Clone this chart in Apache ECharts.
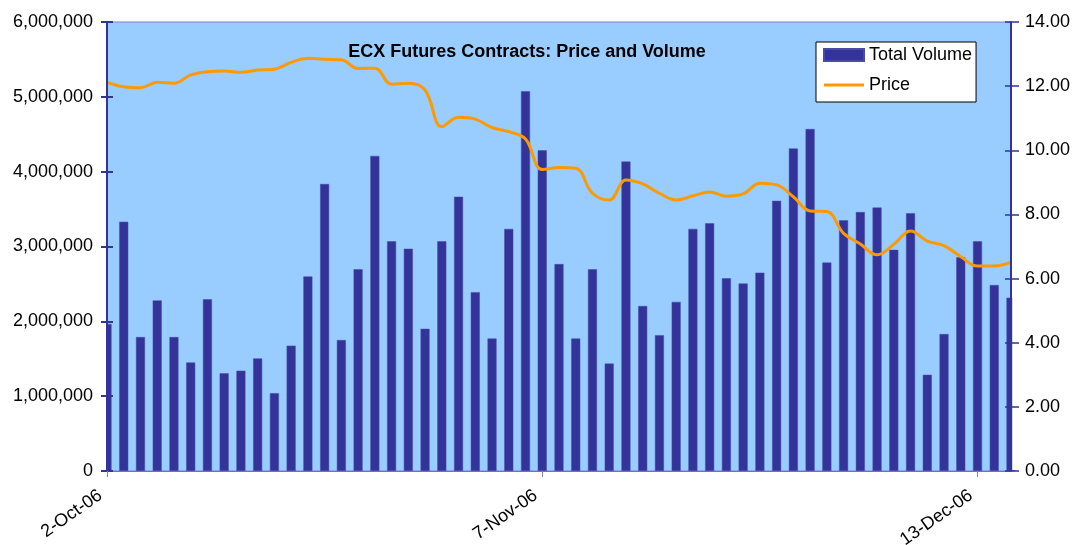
<!DOCTYPE html>
<html>
<head>
<meta charset="utf-8">
<script src="https://cdn.jsdelivr.net/npm/echarts@6/dist/echarts.min.js"></script>
<style>
html,body{margin:0;padding:0;background:#fff;}
#chart{width:1075px;height:545px;}
</style>
</head>
<body>
<div id="chart"></div>
<script>
var dates = [
  "2-Oct-06","3-Oct-06","4-Oct-06","5-Oct-06","6-Oct-06",
  "9-Oct-06","10-Oct-06","11-Oct-06","12-Oct-06","13-Oct-06",
  "16-Oct-06","17-Oct-06","18-Oct-06","19-Oct-06","20-Oct-06",
  "23-Oct-06","24-Oct-06","25-Oct-06","26-Oct-06","27-Oct-06",
  "30-Oct-06","31-Oct-06","1-Nov-06","2-Nov-06","3-Nov-06",
  "6-Nov-06","7-Nov-06","8-Nov-06","9-Nov-06","10-Nov-06",
  "13-Nov-06","14-Nov-06","15-Nov-06","16-Nov-06","17-Nov-06",
  "20-Nov-06","21-Nov-06","22-Nov-06","23-Nov-06","24-Nov-06",
  "27-Nov-06","28-Nov-06","29-Nov-06","30-Nov-06","1-Dec-06",
  "4-Dec-06","5-Dec-06","6-Dec-06","7-Dec-06","8-Dec-06",
  "11-Dec-06","12-Dec-06","13-Dec-06","14-Dec-06","15-Dec-06"
];
var totalVolume = [
  1965000,3330000,1790000,2280000,1790000,1450000,2295000,1305000,1340000,1505000,
  1040000,1675000,2600000,3835000,1750000,2695000,4210000,3070000,2970000,1900000,
  3070000,3665000,2390000,1770000,3235000,5075000,4285000,2765000,1770000,2695000,
  1435000,4135000,2205000,1815000,2260000,3235000,3310000,2575000,2505000,2650000,
  3610000,4310000,4570000,2785000,3350000,3460000,3520000,2955000,3445000,1285000,
  1830000,2855000,3070000,2485000,2315000
];
var price = [
  12.12,11.98,11.95,12.12,12.09,12.35,12.45,12.47,12.43,12.50,
  12.53,12.74,12.87,12.84,12.82,12.55,12.56,12.06,12.09,11.88,
  10.74,11.03,10.97,10.71,10.58,10.35,9.40,9.46,9.44,8.66,
  8.45,9.07,8.95,8.66,8.45,8.58,8.70,8.57,8.64,8.97,
  8.92,8.55,8.11,8.09,7.41,7.08,6.74,7.07,7.48,7.17,
  7.03,6.68,6.39,6.39,6.51
];
var volumeTicks = {min: 0, max: 6000000, interval: 1000000};
var priceTicks = {min: 0, max: 14, interval: 2};

var FONT = 'Liberation Sans, Arial, sans-serif';
var AXIS_BLUE = '#333399';

var chart = echarts.init(document.getElementById('chart'));
chart.setOption({
  animation: false,
  backgroundColor: '#ffffff',
  title: {
    text: 'ECX Futures Contracts: Price and Volume',
    left: 522, top: 38, textAlign: 'center',
    textStyle: {fontFamily: FONT, fontSize: 18, fontWeight: 'bold', color: '#000'}
  },
  legend: {
    orient: 'vertical', left: 816, top: 42,
    backgroundColor: '#ffffff', borderColor: '#000000', borderWidth: 1,
    padding: [4, 4, 8, 7], itemWidth: 40, itemHeight: 12, itemGap: 12,
    textStyle: {fontFamily: FONT, fontSize: 18, color: '#000'},
    data: [
      {name: 'Total Volume', icon: 'rect'},
      {name: 'Price', icon: 'path://M0,0L40,0L40,3L0,3Z'}
    ]
  },
  grid: {
    left: 107, right: 64, top: 22, bottom: 74,
    outerBoundsMode: 'none', containLabel: false,
    show: true, backgroundColor: '#99CCFF', borderColor: '#8080c8', borderWidth: 1
  },
  graphic: [
    {type: 'rect', z: 50, shape: {x: 92, y: 20, width: 14.2, height: 450}, style: {fill: '#ffffff'}},
    {type: 'rect', z: 50, shape: {x: 1012.2, y: 20, width: 10, height: 450}, style: {fill: '#ffffff'}}
  ],
  xAxis: {
    type: 'category', data: dates, boundaryGap: false, z: 100,
    axisLine: {lineStyle: {color: '#7070c8', width: 1}},
    axisTick: {interval: 25, length: 6, lineStyle: {color: '#8080c8'}},
    axisLabel: {interval: 25, rotate: 35, margin: 18, padding: [0, 8, 0, 0],
      fontFamily: FONT, fontSize: 18, color: '#000'},
    splitLine: {show: false}
  },
  yAxis: [
    {
      type: 'value', position: 'left', z: 100,
      min: volumeTicks.min, max: volumeTicks.max, interval: volumeTicks.interval,
      axisLine: {show: true, lineStyle: {color: AXIS_BLUE, width: 2}},
      axisTick: {show: true, length: 6, lineStyle: {color: AXIS_BLUE, width: 2}},
      axisLabel: {margin: 14, fontFamily: FONT, fontSize: 18, color: '#000',
        formatter: function (v) { return v.toString().replace(/\B(?=(\d{3})+(?!\d))/g, ','); }},
      splitLine: {show: false}
    },
    {
      type: 'value', position: 'right', z: 100,
      min: priceTicks.min, max: priceTicks.max, interval: priceTicks.interval,
      axisLine: {show: true, lineStyle: {color: AXIS_BLUE, width: 2}},
      axisTick: {show: true, length: 8, lineStyle: {color: AXIS_BLUE, width: 1.5}},
      axisLabel: {margin: 14, fontFamily: FONT, fontSize: 18, color: '#000',
        formatter: function (v) { return v.toFixed(2); }},
      splitLine: {show: false}
    },
    {
      type: 'value', position: 'left', z: 100,
      min: volumeTicks.min, max: volumeTicks.max, interval: volumeTicks.interval,
      axisLine: {show: false}, axisLabel: {show: false}, splitLine: {show: false},
      axisTick: {show: true, inside: true, length: 6, lineStyle: {color: AXIS_BLUE, width: 2}}
    },
    {
      type: 'value', position: 'right', z: 100,
      min: priceTicks.min, max: priceTicks.max, interval: priceTicks.interval,
      axisLine: {show: false}, axisLabel: {show: false}, splitLine: {show: false},
      axisTick: {show: true, inside: true, length: 6, lineStyle: {color: AXIS_BLUE, width: 1.5}}
    }
  ],
  series: [
    {
      name: 'Total Volume', type: 'bar', yAxisIndex: 0, data: totalVolume,
      barWidth: 9, z: 2,
      itemStyle: {color: '#333399', borderColor: '#4a4aa8', borderWidth: 0.5}
    },
    {
      name: 'Price', type: 'line', yAxisIndex: 1, data: price, z: 3,
      symbol: 'none', smooth: 0.4,
      lineStyle: {color: '#FF9900', width: 3},
      itemStyle: {color: '#FF9900'}
    }
  ]
});
</script>
</body>
</html>
